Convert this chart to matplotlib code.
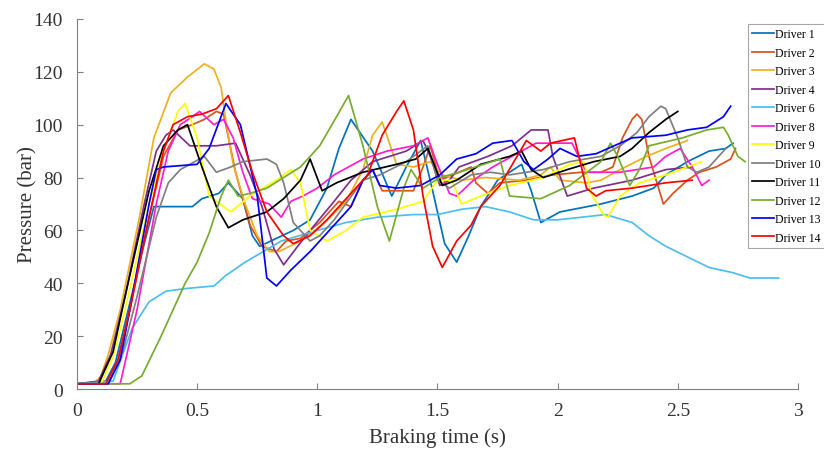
import matplotlib
matplotlib.use("Agg")
import matplotlib.pyplot as plt

plt.rcParams['font.family'] = ['Liberation Serif', 'DejaVu Serif']

# braking pressure traces: time (s) / pressure (bar)
t1 = [0, 0.12, 0.16, 0.2, 0.28, 0.32, 0.40, 0.48, 0.52, 0.59, 0.63, 0.69, 0.73, 0.76, 0.83, 0.90, 0.97, 1.04, 1.09, 1.14, 1.23,
      1.31, 1.37, 1.43, 1.48, 1.53, 1.58, 1.63, 1.68, 1.75, 1.85, 1.89, 1.93, 2.01, 2.18, 2.31, 2.40, 2.45, 2.54, 2.63, 2.70, 2.73]
p1 = [2, 3, 10, 25, 55, 69, 69, 69, 72, 74, 78, 72, 58, 54, 57, 60, 64, 76, 91, 102, 90,
      73, 84, 94, 75, 55, 48, 58, 69, 79, 85, 75, 63, 67, 70, 73, 76, 81, 86, 90, 91, 93]

t2 = [0, 0.13, 0.17, 0.22, 0.3, 0.36, 0.42, 0.48, 0.53, 0.58, 0.61, 0.66, 0.72, 0.77, 0.83, 0.87, 0.93, 1.01, 1.09, 1.14, 1.19,
      1.23, 1.27, 1.40, 1.44, 1.47, 1.51, 1.59, 1.64, 1.66, 1.71, 1.76, 1.87, 1.98, 2.1, 2.18, 2.23, 2.27, 2.31, 2.33, 2.35,
      2.38, 2.42, 2.44, 2.48, 2.54, 2.59, 2.66, 2.72, 2.74]
p2 = [2, 2, 10, 30, 65, 88, 98, 100, 102, 105, 104, 82, 62, 54, 52, 56, 57, 63, 71, 69, 79,
      83, 75, 75, 84, 92, 79, 82, 84, 78, 74, 78, 79, 81, 82, 82, 84, 95, 102, 104, 102,
      88, 76, 70, 74, 79, 82, 84, 87, 91]

t3 = [0, 0.07, 0.10, 0.13, 0.18, 0.26, 0.32, 0.39, 0.46, 0.53, 0.57, 0.60, 0.62, 0.65, 0.70, 0.75, 0.80, 0.84, 0.93, 1.02, 1.12,
      1.19, 1.23, 1.27, 1.30, 1.33, 1.40, 1.47, 1.52, 1.60, 1.70, 1.84, 1.93, 1.97, 2.01, 2.12, 2.18, 2.26, 2.37, 2.45, 2.54]
p3 = [2, 2, 5, 13, 30, 65, 95, 112, 118, 123, 121, 114, 101, 85, 70, 58, 52, 52, 56, 62, 71,
      83, 96, 101, 93, 85, 84, 86, 81, 79, 80, 79, 81, 84, 79, 78, 79, 83, 88, 91, 94]

t4 = [0, 0.09, 0.14, 0.2, 0.28, 0.33, 0.37, 0.40, 0.47, 0.58, 0.66, 0.72, 0.77, 0.82, 0.86, 0.91, 0.97, 1.07, 1.14, 1.23, 1.37,
      1.44, 1.47, 1.51, 1.55, 1.59, 1.71, 1.81, 1.89, 1.96, 1.98, 2.04, 2.15, 2.31, 2.45, 2.56]
p4 = [2, 3, 13, 35, 70, 90, 96, 98, 92, 92, 93, 81, 69, 53, 47, 53, 60, 71, 79, 86, 90,
      94, 88, 77, 79, 84, 88, 92, 98, 98, 88, 73, 76, 79, 83, 84]

t6 = [0, 0.15, 0.23, 0.30, 0.37, 0.45, 0.57, 0.62, 0.70, 0.85, 1.0, 1.12, 1.25, 1.4, 1.5, 1.6, 1.7, 1.8, 1.9, 2.0,
      2.1, 2.2, 2.31, 2.38, 2.45, 2.54, 2.63, 2.73, 2.80, 2.92]
p6 = [2, 3, 23, 33, 37, 38, 39, 43, 48, 56, 60, 63, 65, 66, 66, 68, 69, 67, 64, 64,
      65, 66, 63, 58, 54, 50, 46, 44, 42, 42]

t8 = [0, 0.18, 0.25, 0.33, 0.38, 0.43, 0.48, 0.51, 0.57, 0.61, 0.65, 0.69, 0.73, 0.80, 0.85, 0.89, 0.94, 1.0, 1.07, 1.19,
      1.29, 1.40, 1.46, 1.50, 1.55, 1.58, 1.65, 1.73, 1.81, 1.91, 2.01, 2.06, 2.12, 2.26, 2.40, 2.45, 2.51, 2.56, 2.60, 2.63]
p8 = [2, 2, 30, 70, 90, 100, 103, 105, 100, 102, 95, 82, 72, 70, 65, 71, 73, 76, 81, 87,
      90, 92, 95, 85, 74, 73, 79, 84, 88, 93, 93, 93, 82, 82, 84, 88, 91, 84, 77, 79]

t9 = [0, 0.10, 0.15, 0.2, 0.3, 0.36, 0.42, 0.45, 0.50, 0.55, 0.58, 0.64, 0.72, 0.83, 0.89, 0.93, 0.97, 1.04, 1.12, 1.19, 1.33,
      1.44, 1.50, 1.56, 1.60, 1.68, 1.80, 1.94, 2.05, 2.11, 2.14, 2.19, 2.21, 2.26, 2.34, 2.45, 2.54, 2.60]
p9 = [2, 2, 12, 30, 70, 90, 105, 108, 95, 73, 71, 67, 73, 79, 83, 78, 60, 56, 60, 65, 68,
      71, 79, 79, 70, 73, 77, 80, 85, 86, 74, 66, 65, 73, 78, 81, 84, 86]

t10 = [0, 0.13, 0.19, 0.25, 0.33, 0.38, 0.43, 0.53, 0.58, 0.64, 0.69, 0.79, 0.83, 0.86, 0.90, 0.97, 1.01, 1.07, 1.19, 1.26, 1.37,
       1.46, 1.50, 1.55, 1.64, 1.72, 1.80, 1.94, 2.05, 2.18, 2.26, 2.33, 2.38, 2.43, 2.45, 2.50, 2.54, 2.58, 2.63, 2.70]
p10 = [2, 2, 14, 35, 65, 78, 83, 88, 82, 84, 86, 87, 85, 78, 63, 56, 58, 64, 79, 81, 86,
       92, 79, 76, 81, 82, 81, 83, 86, 88, 92, 97, 103, 107, 106, 95, 84, 82, 84, 91]

t11 = [0, 0.09, 0.15, 0.2, 0.3, 0.36, 0.42, 0.46, 0.52, 0.58, 0.63, 0.69, 0.79, 0.86, 0.93, 0.97, 1.02, 1.08, 1.19, 1.33, 1.41,
       1.46, 1.52, 1.58, 1.68, 1.80, 1.85, 1.89, 1.94, 2.04, 2.15, 2.26, 2.31, 2.38, 2.45, 2.50]
p11 = [2, 2, 14, 35, 75, 92, 98, 100, 84, 69, 61, 64, 67, 72, 79, 87, 75, 78, 82, 85, 87,
       91, 77, 79, 85, 88, 90, 83, 80, 83, 86, 88, 91, 97, 102, 105]

t12 = [0, 0.22, 0.27, 0.35, 0.45, 0.50, 0.55, 0.60, 0.63, 0.67, 0.72, 0.79, 0.93, 1.01, 1.08, 1.13, 1.19, 1.25, 1.30, 1.36,
       1.39, 1.44, 1.51, 1.59, 1.76, 1.80, 1.93, 2.05, 2.18, 2.22, 2.25, 2.30, 2.34, 2.38, 2.52, 2.62, 2.69, 2.71, 2.75, 2.78]
p12 = [2, 2, 5, 20, 40, 48, 59, 73, 79, 73, 74, 76, 84, 92, 103, 111, 92, 69, 56, 76,
       83, 76, 80, 82, 87, 73, 72, 77, 86, 93, 88, 77, 83, 92, 95, 98, 99, 96, 88, 86]

t13 = [0, 0.13, 0.18, 0.22, 0.3, 0.33, 0.36, 0.50, 0.55, 0.62, 0.68, 0.75, 0.79, 0.83, 0.89, 0.97, 1.02, 1.05, 1.14, 1.19, 1.23,
       1.26, 1.33, 1.43, 1.51, 1.58, 1.66, 1.73, 1.81, 1.86, 1.90, 1.96, 2.01, 2.08, 2.16, 2.31, 2.45, 2.54, 2.62, 2.69, 2.72]
p13 = [2, 2, 11, 30, 70, 83, 84, 85, 91, 108, 100, 73, 42, 39, 45, 52, 57, 60, 69, 79, 83,
       77, 76, 77, 81, 87, 89, 93, 94, 86, 83, 87, 91, 88, 89, 95, 96, 98, 99, 103, 107]

t14 = [0, 0.12, 0.17, 0.22, 0.3, 0.36, 0.40, 0.46, 0.52, 0.58, 0.63, 0.68, 0.73, 0.79, 0.86, 0.90, 0.97, 1.04, 1.12, 1.21, 1.27,
       1.33, 1.36, 1.40, 1.44, 1.48, 1.52, 1.58, 1.64, 1.68, 1.76, 1.87, 1.93, 1.97, 2.02, 2.07, 2.12, 2.16, 2.20, 2.31, 2.45,
       2.56]
p14 = [2, 2, 11, 30, 65, 90, 100, 103, 104, 106, 111, 97, 82, 67, 58, 55, 58, 64, 72, 81, 96,
       105, 109, 98, 73, 54, 46, 56, 62, 69, 77, 94, 90, 93, 94, 95, 76, 73, 75, 76, 78,
       79]

names = ['Driver 1', 'Driver 2', 'Driver 3', 'Driver 4', 'Driver 6', 'Driver 8', 'Driver 9',
         'Driver 10', 'Driver 11', 'Driver 12', 'Driver 13', 'Driver 14']
times = [t1, t2, t3, t4, t6, t8, t9, t10, t11, t12, t13, t14]
pressures = [p1, p2, p3, p4, p6, p8, p9, p10, p11, p12, p13, p14]
colors = ['#0072BD', '#D95319', '#EDB120', '#7E2F8E', '#4DBEEE', '#FF1DCE', '#FFFF00',
          '#808080', '#000000', '#77AC30', '#0000FF', '#FF0000']

fig = plt.figure(figsize=(8.24, 4.52), dpi=100)
ax = fig.add_axes([0.0934, 0.137, 0.875, 0.819])

for name, t, p, c in zip(names, times, pressures, colors):
    ax.plot(t, p, color=c, lw=1.25, label=name)

ax.set_xlim(0, 3)
ax.set_ylim(0, 140)
ax.set_xticks([0, 0.5, 1, 1.5, 2, 2.5, 3])
ax.set_xticklabels(['0', '0.5', '1', '1.5', '2', '2.5', '3'])
ax.set_yticks(range(0, 141, 20))
ax.spines['top'].set_visible(False)
ax.spines['right'].set_visible(False)
for s in ('left', 'bottom'):
    ax.spines[s].set_color('#808080')
ax.tick_params(direction='in', length=4, color='#808080', labelsize=14, labelcolor='#333333')
ax.tick_params(axis='x', pad=9)
ax.tick_params(axis='y', pad=10)
ax.set_xlabel('Braking time (s)', fontsize=15, color='#333333', labelpad=6)
ax.set_ylabel('Pressure (bar)', fontsize=15, color='#333333', labelpad=-3)

leg = ax.legend(loc='upper left', bbox_to_anchor=(0.931, 0.986), fontsize=8.5, frameon=True,
                fancybox=False, handlelength=1.8, handletextpad=0.1, labelspacing=0.55,
                borderpad=0.35, borderaxespad=0)
leg.get_frame().set_edgecolor('#909090')
leg.get_frame().set_linewidth(0.8)

fig.savefig('out.png', dpi=100)
